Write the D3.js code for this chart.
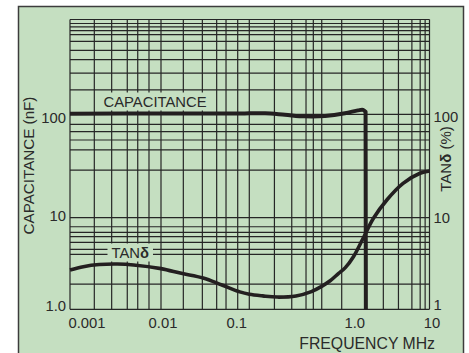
<!DOCTYPE html>
<html>
<head>
<meta charset="utf-8">
<script src="https://cdn.jsdelivr.net/npm/d3@7"></script>
<style>
  body { margin: 0; background: #fff; }
  text { font-family: Arial, "Liberation Sans", sans-serif; fill: #2a2a2a; }
</style>
</head>
<body>
<svg id="chart" width="469" height="353"></svg>
<script>
// frequency (MHz) decade ticks and labels
var xTicks = [0.001, 0.01, 0.1, 1, 10];
var xTickLabels = ["0.001", "0.01", "0.1", "1.0", "10"];
// minor grid lines as drawn on the sheet (not exact log steps)
var xMinor = [0.00185, 0.00287, 0.00426, 0.00555, 0.00738,
  0.0179, 0.0294, 0.0427, 0.0545, 0.0739,
  0.187, 0.288, 0.411, 0.493, 0.608,
  2.98, 4.43, 6.3, 7.83, 8.92];

var yTicks = [1, 10, 100];
var yLeftLabels = ["1.0", "10", "100"];
var yRightLabels = ["1", "10", "100"];
var yMinor = [1.88, 3.98, 4.52, 5.39, 6.2, 6.93, 7.97,
  28.9, 45.2, 56.4, 67.9, 80,
  181, 272, 377, 472, 589, 693, 764, 838, 907, 1000];

// capacitance (nF) vs frequency; last point is the drop at resonance
var capFreq = [0.001, 0.01, 0.06, 0.1, 0.148, 0.243, 0.4, 0.66, 1.09, 1.53, 1.75, 1.87, 1.885];
var capValue = [101.5, 101.8, 101.8, 102.3, 102.6, 99, 95.5, 96.3, 102.5, 110, 111.3, 106, 1];

// tan delta (%) vs frequency
var tanFreq = [0.001, 0.0014, 0.0021, 0.0033, 0.005, 0.01, 0.017, 0.03, 0.049, 0.078, 0.1, 0.14, 0.2,
  0.32, 0.47, 0.6, 0.75, 0.92, 1.1, 1.36, 1.76, 2.3, 3.3, 5, 7.8, 10];
var tanValue = [2.69, 2.92, 3.08, 3.12, 3.05, 2.78, 2.47, 2.2, 1.84, 1.55, 1.46, 1.40, 1.36,
  1.40, 1.56, 1.77, 2.05, 2.45, 2.85, 3.75, 6.0, 9.85, 15, 21.5, 26.9, 28.3];

var svg = d3.select("#chart");
var green = "#c5dfc1", ink = "#231f20";

// the printed grid is hand drawn, so each decade gets its own width
var x = d3.scaleLog().domain(xTicks).range([70, 161, 249.3, 341.7, 429.5]);
var y = d3.scaleLog().domain([1, 10, 100, 1000]).range([309.3, 217.7, 114.3, 19.5]);

svg.append("rect").attr("x", 18.5).attr("y", 6.5).attr("width", 445).attr("height", 360)
  .attr("fill", green).attr("stroke", "#3c3c3c").attr("stroke-width", 1.5);

var grid = svg.append("g").attr("stroke", "#262626").attr("stroke-width", 1.2);
grid.selectAll(".vx").data(xTicks.concat(xMinor)).enter().append("line")
  .attr("x1", d => x(d)).attr("x2", d => x(d))
  .attr("y1", y(1000)).attr("y2", y(1));
grid.selectAll(".hy").data(yTicks.concat(yMinor)).enter().append("line")
  .attr("y1", d => y(d)).attr("y2", d => y(d))
  .attr("x1", x(0.001)).attr("x2", x(10));

// tick labels
svg.selectAll(".xl").data(xTicks).enter().append("text")
  .attr("x", d => x(d)).attr("y", 328)
  .attr("text-anchor", "middle").attr("font-size", 14.8)
  .attr("dx", (d, i) => [17, 2, -12.5, 13, 2.5][i])
  .text((d, i) => xTickLabels[i]);

svg.selectAll(".yl").data(yTicks).enter().append("text")
  .attr("x", 66).attr("y", d => y(d))
  .attr("dy", (d, i) => [2, 3.5, 8.5][i])
  .attr("text-anchor", "end").attr("font-size", 14.8)
  .text((d, i) => yLeftLabels[i]);

svg.selectAll(".yr").data(yTicks).enter().append("text")
  .attr("x", 433.5).attr("y", d => y(d))
  .attr("dy", (d, i) => [1, 5, 7.5][i])
  .attr("text-anchor", "start").attr("font-size", 14.8)
  .text((d, i) => yRightLabels[i]);

// axis titles
svg.append("text").attr("transform", "translate(34,165.5) rotate(-90)")
  .attr("text-anchor", "middle").attr("font-size", 15.2).text("CAPACITANCE (nF)");

var rt = svg.append("text").attr("transform", "translate(450.5,159) rotate(-90)")
  .attr("text-anchor", "middle").attr("font-size", 15);
rt.append("tspan").text("TAN");
rt.append("tspan").attr("font-weight", "bold").text("δ");
rt.append("tspan").text(" (%)");

svg.append("text").attr("x", 435).attr("y", 348.5).attr("text-anchor", "end")
  .attr("font-size", 15.8).text("FREQUENCY MHz");

// curve labels sit on small green patches that hide the grid
function curveLabel(px, py, parts, padL, padR) {
  var g = svg.append("g");
  var box = g.append("rect").attr("fill", green);
  var t = g.append("text").attr("x", px).attr("y", py).attr("font-size", 14.8);
  parts.forEach(p => t.append("tspan").attr("font-weight", p[1] ? "bold" : null).text(p[0]));
  var b = t.node().getBBox();
  box.attr("x", b.x - padL).attr("y", b.y - 1).attr("width", b.width + padL + padR).attr("height", b.height + 2);
}
curveLabel(103.5, 106.5, [["CAPACITANCE", false]], 8, 9);
curveLabel(111.5, 257.5, [["TAN", false], ["δ", true]], 4, 4);

var smooth = d3.line().x(d => x(d[0])).y(d => y(d[1])).curve(d3.curveCatmullRom.alpha(0.5));
var straight = d3.line().x(d => x(d[0])).y(d => y(d[1]));

var cap = capFreq.map((f, i) => [f, capValue[i]]);
var n = cap.length;
svg.append("path").datum(cap)
  .attr("d", d => smooth(d.slice(0, n - 1)) + straight(d.slice(n - 2)).replace(/^M/, "L"))
  .attr("fill", "none").attr("stroke", ink).attr("stroke-width", 4).attr("stroke-linejoin", "round");

svg.append("path").datum(tanFreq.map((f, i) => [f, tanValue[i]]))
  .attr("d", smooth).attr("fill", "none").attr("stroke", ink).attr("stroke-width", 3.6);
</script>
</body>
</html>
